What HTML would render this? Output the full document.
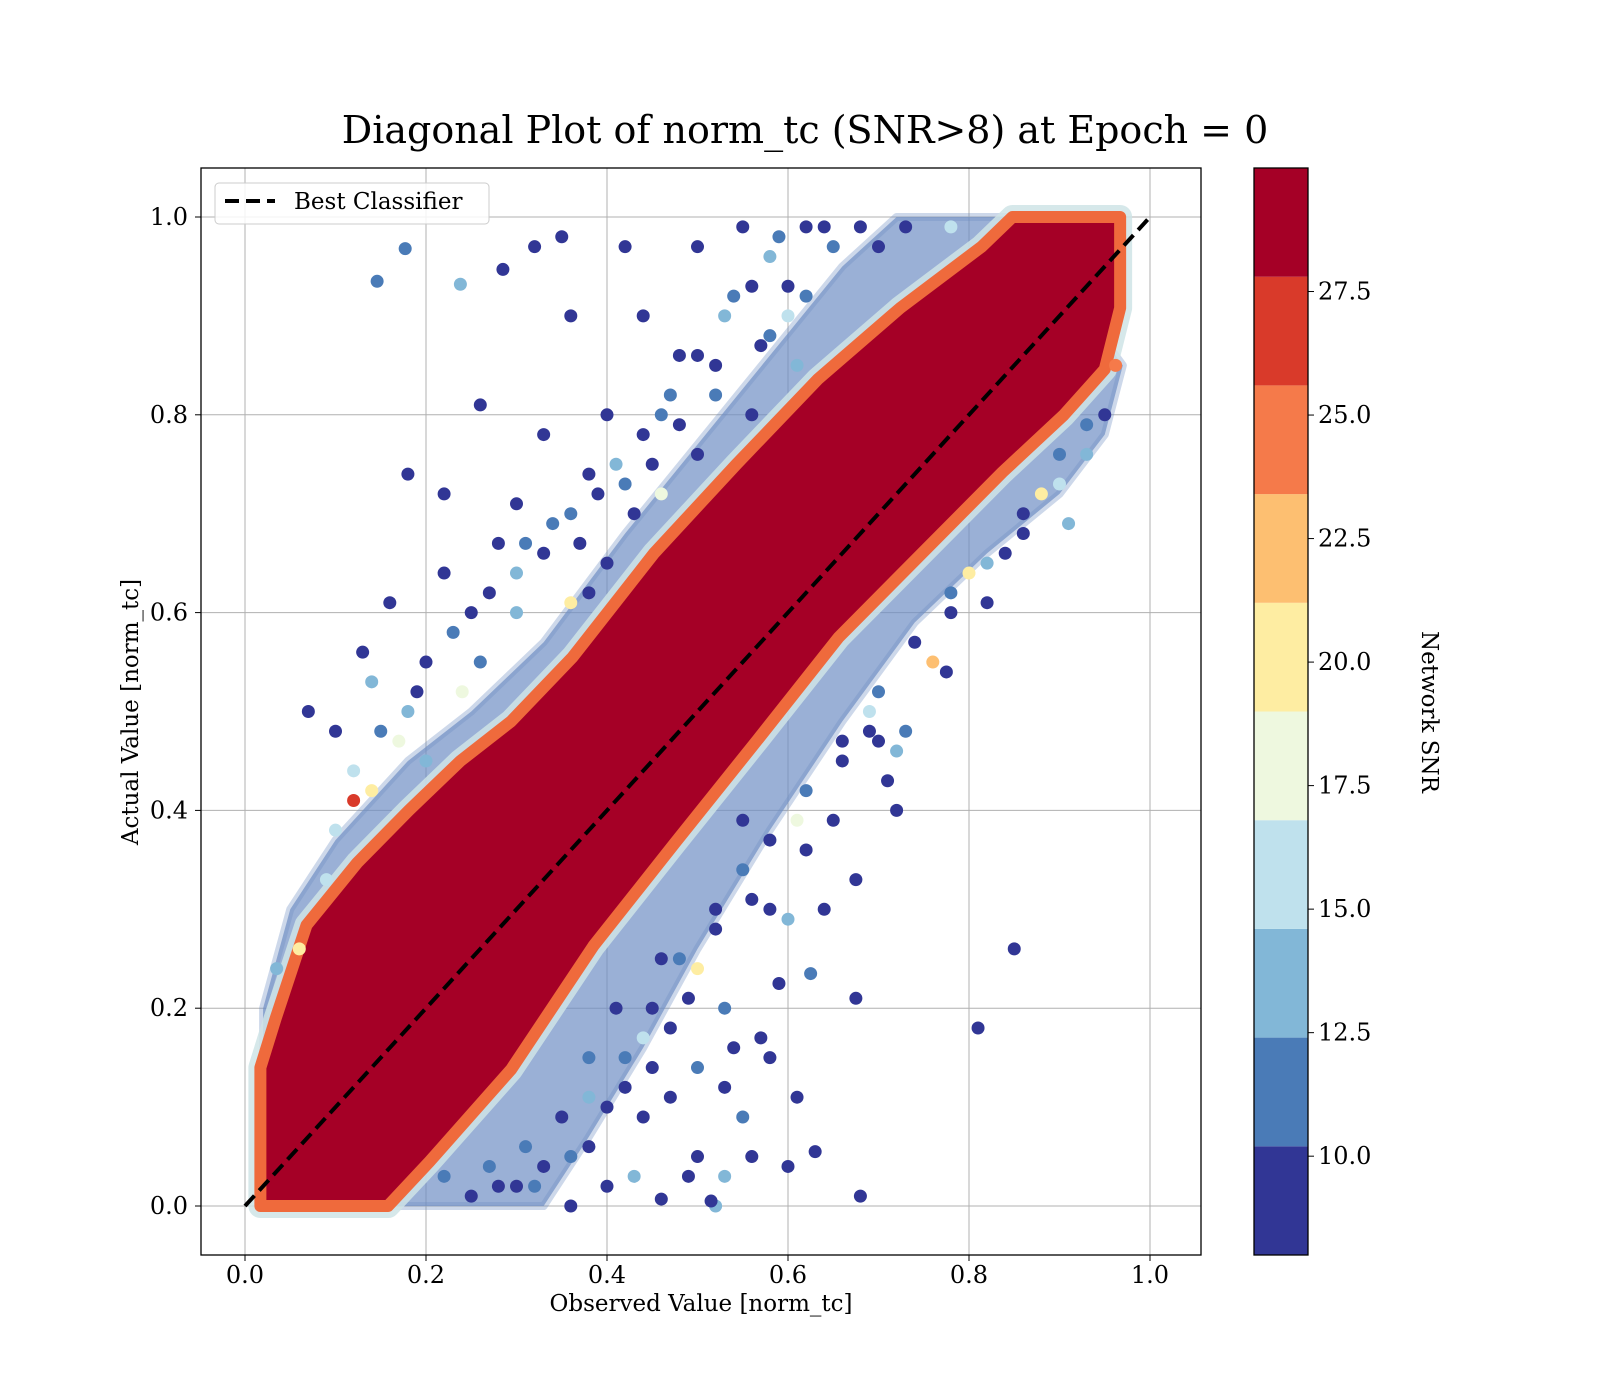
<!DOCTYPE html>
<html><head><meta charset="utf-8"><style>
body{margin:0;background:#fff}
svg{display:block;font-family:"DejaVu Serif","Liberation Serif",serif}
</style></head><body>
<svg id="chart" width="1600" height="1400" viewBox="0 0 1600 1400">
<rect width="1600" height="1400" fill="#fff"/>
<text x="805" y="143" font-size="38" text-anchor="middle">Diagonal Plot of norm_tc (SNR&gt;8) at Epoch = 0</text>
<g id="grid"></g>
<defs><clipPath id="clip"><rect x="201" y="168" width="1000" height="1087"/></clipPath></defs>
<g id="marks" clip-path="url(#clip)"></g>
<rect x="201" y="168" width="1000" height="1087" fill="none" stroke="#000" stroke-width="1.3"/>
<g id="ticks"></g>
<text x="701" y="1311" font-size="23" text-anchor="middle">Observed Value [norm_tc]</text>
<text transform="translate(138,712) rotate(-90)" font-size="23" text-anchor="middle">Actual Value [norm_tc]</text>
<g>
<rect x="215" y="183" width="274" height="41" rx="4" fill="#fff" fill-opacity="0.85" stroke="#ccc"/>
<line x1="225" y1="201" x2="275" y2="201" stroke="#000" stroke-width="4" stroke-dasharray="14,7"/>
<text x="294" y="209" font-size="23">Best Classifier</text>
</g>
<g id="cbar"></g>
<text transform="translate(1422,712) rotate(90)" font-size="23" text-anchor="middle">Network SNR</text>
</svg>
<script>
const xTicks=[0,0.2,0.4,0.6,0.8,1.0];
const yTicks=[0,0.2,0.4,0.6,0.8,1.0];
const cbTicks=[10,12.5,15,17.5,20,22.5,25,27.5];
const cbBounds=[8,10.2,12.4,14.6,16.8,19,21.2,23.4,25.6,27.8,30];
const cbColors=["#313695","#4a7bb7","#82b7d7","#bfe1ed","#eef8df","#feeda2","#fdbf71","#f57a4a","#d93a2a","#a50026"];
// dense core band
const coreUpX=[0.017,0.034,0.068,0.124,0.181,0.238,0.294,0.362,0.452,0.543,0.633,0.724,0.814,0.848,0.967];
const coreUpY=[0.14,0.19,0.284,0.347,0.40,0.45,0.49,0.555,0.66,0.75,0.836,0.908,0.97,1.0,1.0];
const coreLoX=[0.967,0.95,0.905,0.837,0.747,0.656,0.566,0.475,0.385,0.294,0.204,0.158,0.017];
const coreLoY=[0.908,0.846,0.80,0.742,0.659,0.575,0.471,0.367,0.263,0.138,0.045,0.0,0.0];
// halo band (dense mixed-colour zone)
const haloUpX=[0.02,0.05,0.1,0.18,0.25,0.33,0.42,0.5,0.58,0.66,0.72,0.85];
const haloUpY=[0.2,0.30,0.37,0.45,0.50,0.57,0.68,0.77,0.86,0.95,1.0,1.0];
const haloLoX=[0.97,0.95,0.9,0.82,0.74,0.66,0.58,0.5,0.44,0.38,0.33,0.02];
const haloLoY=[0.85,0.78,0.72,0.66,0.59,0.49,0.38,0.26,0.16,0.07,0.0,0.0];
// outlier points
const ptX=[0.146,0.177,0.238,0.285,0.18,0.07,0.26,0.30,0.22,0.32,0.35,0.36,0.42,0.44,0.50,0.48,0.40,0.33,0.38,0.45,0.28,0.25,0.16,0.13,0.10,0.12,0.14,0.19,0.22,0.26,0.55,0.58,0.60,0.62,0.65,0.68,0.54,0.52,0.56,0.40,0.30,0.20,0.17,0.10,0.09,0.06,0.035,0.38,0.43,0.34,0.46,0.50,0.58,0.61,0.70,0.73,0.78,
0.85,0.81,0.68,0.63,0.60,0.675,0.675,0.65,0.625,0.61,0.59,0.58,0.57,0.56,0.52,0.515,0.53,0.55,0.50,0.49,0.46,0.43,0.44,0.42,0.47,0.49,0.50,0.53,0.53,0.45,0.40,0.38,0.36,0.33,0.30,0.27,0.25,0.22,0.41,0.46,0.60,0.58,0.52,0.62,0.71,0.72,0.73,0.70,0.69,0.66,0.775,0.76,0.78,0.82,0.84,0.86,0.91,0.88,0.90,0.93,0.95,0.962,0.55,0.35,0.31,0.38,
0.30,0.33,0.36,0.39,0.41,0.44,0.47,0.50,0.53,0.56,0.59,0.23,0.20,0.18,0.15,0.12,0.27,0.31,0.37,0.42,0.48,0.52,0.57,0.62,0.64,0.46,0.36,0.24,0.14,0.60,
0.40,0.42,0.45,0.48,0.52,0.55,0.58,0.62,0.66,0.70,0.74,0.78,0.82,0.86,0.90,0.93,0.36,0.32,0.28,0.38,0.50,0.44,0.61,0.69,0.80,0.56,0.47,0.54,0.64,0.72];
const ptY=[0.935,0.968,0.932,0.947,0.74,0.50,0.81,0.71,0.72,0.97,0.98,0.90,0.97,0.90,0.97,0.86,0.80,0.78,0.74,0.75,0.67,0.60,0.61,0.56,0.48,0.41,0.53,0.52,0.64,0.55,0.99,0.96,0.93,0.99,0.97,0.99,0.92,0.85,0.80,0.65,0.60,0.45,0.47,0.38,0.33,0.26,0.24,0.62,0.70,0.69,0.80,0.76,0.88,0.85,0.97,0.99,0.99,
0.26,0.18,0.01,0.055,0.04,0.21,0.33,0.39,0.235,0.11,0.225,0.15,0.17,0.05,0.0,0.005,0.03,0.09,0.05,0.03,0.007,0.03,0.09,0.12,0.18,0.21,0.14,0.20,0.12,0.14,0.02,0.06,0.0,0.04,0.02,0.04,0.01,0.03,0.20,0.25,0.29,0.30,0.28,0.36,0.43,0.46,0.48,0.47,0.48,0.45,0.54,0.55,0.60,0.61,0.66,0.68,0.69,0.72,0.76,0.76,0.80,0.85,0.39,0.09,0.06,0.15,
0.64,0.66,0.70,0.72,0.75,0.78,0.82,0.86,0.90,0.93,0.98,0.58,0.55,0.50,0.48,0.44,0.62,0.67,0.67,0.73,0.79,0.82,0.87,0.92,0.99,0.72,0.61,0.52,0.42,0.90,
0.10,0.15,0.20,0.25,0.30,0.34,0.37,0.42,0.47,0.52,0.57,0.62,0.65,0.70,0.73,0.79,0.05,0.02,0.02,0.11,0.24,0.17,0.39,0.50,0.64,0.31,0.11,0.16,0.30,0.40];
const ptSnr=[11,12,13,9,9,9,9,9,9,9,9,9,9,9,9,9,9,9,9,9,10,9,9,9,9,27,13,9,9,12,9,14,9,9,12,9,12,9,9,9,14,13,18,16,15,20,14,10,9,12,12,9,11,13,10,9,15,
9,9,9,9,9,9,9,9,11,9,9,9,9,9,13,9,13,12,9,9,9,13,9,9,9,9,12,12,9,9,9,9,9,9,10,11,9,12,9,9,14,9,9,9,9,13,11,9,9,9,9,22,9,9,9,9,13,20,12,13,10,25,9,10,11,11,
13,9,12,9,14,9,12,9,13,9,12,12,9,14,12,16,9,12,9,12,9,11,9,11,9,17,20,18,21,16,
9,12,9,11,9,12,9,11,9,12,9,11,13,9,15,12,12,11,9,13,20,16,18,15,21,9,9,9,9,9];

const NS="http://www.w3.org/2000/svg";
const sx=v=>245+v*905;
const sy=v=>1206-v*989;
const cy=v=>1255-(v-8)*(1087/22);
function mk(tag,attrs,parent){const e=document.createElementNS(NS,tag);for(const k in attrs)e.setAttribute(k,attrs[k]);parent.appendChild(e);return e;}
function colorOf(s){for(let i=0;i<10;i++){if(s<cbBounds[i+1])return cbColors[i];}return cbColors[9];}
const grid=document.getElementById('grid'),marks=document.getElementById('marks'),ticks=document.getElementById('ticks'),cbar=document.getElementById('cbar');
xTicks.forEach(t=>{
 const g=mk('line',{x1:sx(t),x2:sx(t),y1:168,y2:1255,stroke:'#b0b0b0','stroke-width':1},grid);
 
 
 const tk=mk('line',{x1:sx(t),x2:sx(t),y1:1255,y2:1261,stroke:'#000'},ticks);
 
 
 const tx=mk('text',{x:sx(t),y:1283,'font-size':24,'text-anchor':'middle'},ticks);tx.textContent=t.toFixed(1);
 
 
});
yTicks.forEach(t=>{
 const g=mk('line',{y1:sy(t),y2:sy(t),x1:201,x2:1201,stroke:'#b0b0b0','stroke-width':1},grid);
 
 
 const tk=mk('line',{y1:sy(t),y2:sy(t),x1:195,x2:201,stroke:'#000'},ticks);
 
 
 const tx=mk('text',{x:188,y:sy(t)+8,'font-size':24,'text-anchor':'end'},ticks);tx.textContent=t.toFixed(1);
 
 
});
function bandPts(ux,uy,lx,ly){const p=[];ux.forEach((x,i)=>p.push(sx(x)+','+sy(uy[i])));lx.forEach((x,i)=>p.push(sx(x)+','+sy(ly[i])));return p.join(' ');}
const halo=mk('polygon',{points:bandPts(haloUpX,haloUpY,haloLoX,haloLoY),fill:'#6f8fc4','fill-opacity':0.7,stroke:'#6f8fc4','stroke-width':8,'stroke-opacity':0.35,'stroke-linejoin':'round'},marks);


const fringe=mk('polygon',{points:bandPts(coreUpX,coreUpY,coreLoX,coreLoY),fill:'#fdbf71',stroke:'#cfe4e6','stroke-width':24,'stroke-linejoin':'round','stroke-opacity':0.85},marks);


const core=mk('polygon',{points:bandPts(coreUpX,coreUpY,coreLoX,coreLoY),fill:'#a50026',stroke:'#ef6a3c','stroke-width':12,'stroke-linejoin':'round'},marks);


ptX.forEach((x,i)=>{
 const c=mk('circle',{cx:sx(x),cy:sy(ptY[i]),r:6.5,fill:colorOf(ptSnr[i])},marks);
 
 
});
const diag=mk('line',{x1:sx(0),y1:sy(0),x2:sx(1),y2:sy(1),stroke:'#000','stroke-width':4,'stroke-dasharray':'14,7'},marks);


cbColors.forEach((c,i)=>{
 const r=mk('rect',{x:1254,width:54,y:cy(cbBounds[i+1]),height:cy(cbBounds[i])-cy(cbBounds[i+1]),fill:c},cbar);
 
 
});
const cf=mk('rect',{x:1254,y:168,width:54,height:1087,fill:'none',stroke:'#000','stroke-width':1.3},cbar);


cbTicks.forEach(t=>{
 const tk=mk('line',{x1:1308,x2:1314,y1:cy(t),y2:cy(t),stroke:'#000'},cbar);
 
 
 const tx=mk('text',{x:1318,y:cy(t)+8,'font-size':24},cbar);tx.textContent=t.toFixed(1);
 
 
});
</script>
</body></html>
